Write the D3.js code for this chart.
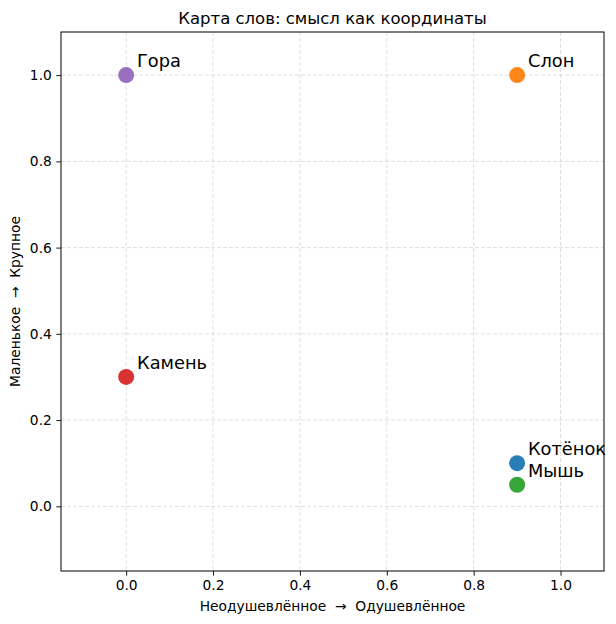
<!DOCTYPE html>
<html>
<head>
<meta charset="utf-8">
<script src="https://cdn.jsdelivr.net/npm/d3@7.9.0/dist/d3.min.js"></script>
<style>
  body { margin: 0; background: #fff; }
  text { font-family: "DejaVu Sans", sans-serif; white-space: pre; }
</style>
</head>
<body>
<svg id="chart" width="616" height="624"></svg>
<script>
// word map data
const words = ["Котёнок", "Слон", "Мышь", "Камень", "Гора"];
const animacy = [0.9, 0.9, 0.9, 0.0, 0.0];
const size = [0.1, 1.0, 0.05, 0.3, 1.0];
const colorList = ["#1f77b4", "#ff7f0e", "#2ca02c", "#d62728", "#9467bd"];
const tickValues = [0.0, 0.2, 0.4, 0.6, 0.8, 1.0];

const svg = d3.select("#chart");
const plotLeft = 61, plotRight = 604, plotTop = 32, plotBottom = 571;

let x = d3.scaleLinear().domain([-0.15, 1.1]).range([plotLeft, plotRight]);
let y = d3.scaleLinear().domain([-0.15, 1.1]).range([plotBottom, plotTop]);

// grid
svg.append("g").selectAll("line").data(tickValues).join("line")
  .attr("x1", d => x(d)).attr("x2", d => x(d))
  .attr("y1", plotTop).attr("y2", plotBottom)
  .attr("stroke", "#b0b0b0").attr("stroke-opacity", 0.4)
  .attr("stroke-dasharray", "4,2");
svg.append("g").selectAll("line").data(tickValues).join("line")
  .attr("y1", d => y(d)).attr("y2", d => y(d))
  .attr("x1", plotLeft).attr("x2", plotRight)
  .attr("stroke", "#b0b0b0").attr("stroke-opacity", 0.4)
  .attr("stroke-dasharray", "4,2");

// axes
let xAxis = d3.axisBottom(x).tickValues(tickValues).tickFormat(d3.format(".1f")).tickSize(4.7).tickPadding(4.5);
let yAxis = d3.axisLeft(y).tickValues(tickValues).tickFormat(d3.format(".1f")).tickSize(4.7).tickPadding(4.5);
svg.append("g").attr("transform", `translate(0,${plotBottom})`).call(xAxis)
  .call(g => g.select(".domain").remove())
  .selectAll("text").attr("font-size", "13.8px").attr("fill", "#000");
svg.append("g").attr("transform", `translate(${plotLeft},0)`).call(yAxis)
  .call(g => g.select(".domain").remove())
  .selectAll("text").attr("font-size", "13.8px").attr("fill", "#000");
svg.selectAll(".tick line").attr("stroke", "#000").attr("stroke-width", 0.9);

// points
words.forEach((w, i) => {
  svg.append("circle")
    .attr("cx", x(animacy[i])).attr("cy", y(size[i]))
    .attr("r", 8)
    .attr("fill", colorList[i]).attr("fill-opacity", 0.95);
  svg.append("text")
    .attr("x", x(animacy[i] + 0.025)).attr("y", y(size[i] + 0.018))
    .attr("font-size", "17.8px").attr("fill", "#000")
    .text(w);
});

// frame
svg.append("rect").attr("x", plotLeft).attr("y", plotTop)
  .attr("width", plotRight - plotLeft).attr("height", plotBottom - plotTop)
  .attr("fill", "none").attr("stroke", "#000").attr("stroke-width", 1);

// labels
svg.append("text").attr("x", (plotLeft + plotRight) / 2).attr("y", 24)
  .attr("text-anchor", "middle").attr("font-size", "16.5px")
  .text("Карта слов: смысл как координаты");
svg.append("text").attr("x", (plotLeft + plotRight) / 2).attr("y", 611)
  .attr("text-anchor", "middle").attr("font-size", "13.8px")
  .text("Неодушевлённое  →  Одушевлённое");
svg.append("text")
  .attr("transform", `translate(20,${(plotTop + plotBottom) / 2}) rotate(-90)`)
  .attr("text-anchor", "middle").attr("font-size", "13.8px")
  .text("Маленькое  →  Крупное");
</script>
</body>
</html>
